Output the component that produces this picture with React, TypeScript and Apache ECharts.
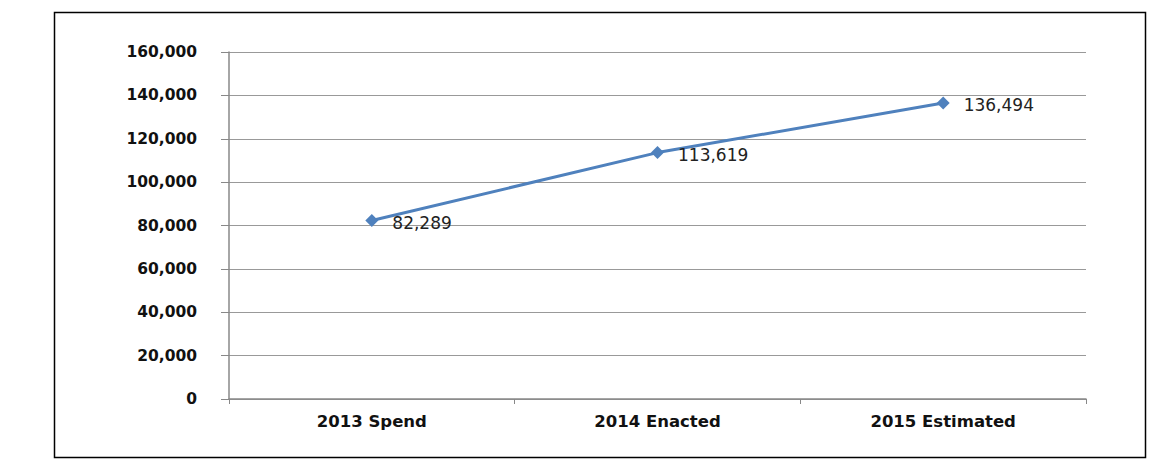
import React, { useEffect, useRef } from "react";
import * as echarts from "echarts";

const categories = ["2013 Spend", "2014 Enacted", "2015 Estimated"];
const values = [82289, 113619, 136494];
const yMin = 0;
const yMax = 160000;
const yInterval = 20000;

export default function App() {
  const ref = useRef<HTMLDivElement>(null);
  useEffect(() => {
    if (!ref.current) return;
    const chart = echarts.init(ref.current, null, { renderer: "svg" });
    chart.setOption({
      animation: false,
      backgroundColor: "#ffffff",
      graphic: [
        {
          type: "rect",
          shape: { x: 54.5, y: 12.5, width: 1091, height: 445 },
          style: { fill: "none", stroke: "#000000", lineWidth: 1.5 },
          silent: true,
        },
      ],
      grid: { left: 229, right: 90, top: 52, bottom: 77 },
      xAxis: {
        type: "category",
        data: categories,
        boundaryGap: true,
        axisLine: { show: true, lineStyle: { color: "#888888", width: 1.5 } },
        axisTick: { show: true, length: 5, alignWithLabel: false, lineStyle: { color: "#888888" } },
        axisLabel: {
          color: "#111111",
          fontFamily: "DejaVu Sans",
          fontWeight: "bold",
          fontSize: 16.5,
          margin: 14,
        },
      },
      yAxis: {
        type: "value",
        min: yMin,
        max: yMax,
        interval: yInterval,
        axisLine: { show: true, lineStyle: { color: "#888888", width: 1.5 } },
        axisTick: { show: true, length: 8, lineStyle: { color: "#888888" } },
        splitLine: { show: true, lineStyle: { color: "#999999", width: 1.2 } },
        axisLabel: {
          color: "#111111",
          fontFamily: "DejaVu Sans",
          fontWeight: "bold",
          fontSize: 15.5,
          margin: 32,
          formatter: (v: number) => v.toLocaleString("en-US"),
        },
      },
      series: [
        {
          type: "line",
          data: values,
          symbol: "diamond",
          symbolSize: 13,
          lineStyle: { color: "#4F81BD", width: 3 },
          itemStyle: { color: "#4F81BD" },
          label: {
            show: true,
            position: "right",
            distance: 14,
            offset: [0, 2],
            color: "#222222",
            fontFamily: "DejaVu Sans",
            fontSize: 17,
            formatter: (p: any) => Number(p.value).toLocaleString("en-US"),
          },
        },
      ],
    });
    return () => chart.dispose();
  }, []);
  return (
    <div
      ref={ref}
      style={{ position: "fixed", left: 0, top: 0, width: 1176, height: 476 }}
    />
  );
}
